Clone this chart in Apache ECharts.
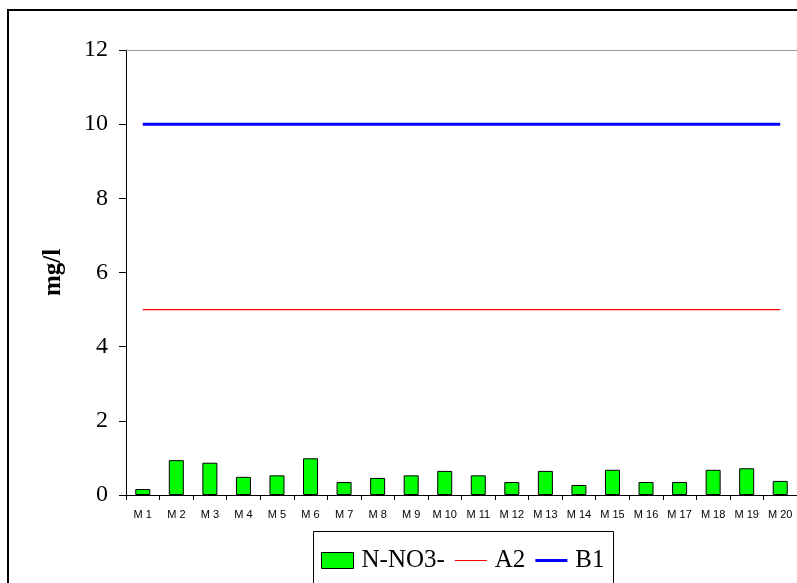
<!DOCTYPE html>
<html>
<head>
<meta charset="utf-8">
<script src="https://cdn.jsdelivr.net/npm/echarts@6/dist/echarts.min.js"></script>
<style>html,body{margin:0;padding:0;background:#fff;}#c{width:797px;height:583px;}</style>
</head>
<body>
<div id="c"></div>
<script>
var categories = ['M 1','M 2','M 3','M 4','M 5','M 6','M 7','M 8','M 9','M 10','M 11','M 12','M 13','M 14','M 15','M 16','M 17','M 18','M 19','M 20'];
var nno3 = [0.16,0.94,0.87,0.49,0.53,0.99,0.35,0.46,0.53,0.65,0.53,0.35,0.65,0.27,0.68,0.35,0.35,0.68,0.72,0.38];
var a2 = [5,5,5,5,5,5,5,5,5,5,5,5,5,5,5,5,5,5,5,5];
var b1 = [10,10,10,10,10,10,10,10,10,10,10,10,10,10,10,10,10,10,10,10];
var yTicks = [0,2,4,6,8,10,12];

var chart = echarts.init(document.getElementById('c'));
var serif = '"Liberation Serif", "Times New Roman", serif';
chart.setOption({
  animation: false,
  backgroundColor: '#fff',
  graphic: [
    {type:'rect', shape:{x:8,y:10,width:820,height:620}, style:{fill:'none',stroke:'#000',lineWidth:2}, z:-1},
    {type:'rect', shape:{x:313.5,y:531.5,width:300,height:80}, style:{fill:'#fff',stroke:'#000',lineWidth:1}, z:0}
  ],
  grid: {left:126, top:50, width:675, height:445},
  legend: {
    left: 321, top: 548, padding: 0, itemWidth: 32, itemHeight: 16, itemGap: 10,
    textStyle: {fontFamily: serif, fontSize: 25, color: '#000', padding:[0,0,0,3]},
    data: [
      {name:'N-NO3-', icon:'rect', itemStyle:{color:'#00ff00', borderColor:'#000', borderWidth:1}},
      {name:'A2', icon:'path://M0,0H32V1.2H0Z', itemStyle:{color:'#ff0000', borderWidth:0}},
      {name:'B1', icon:'path://M0,0H32V3H0Z', itemStyle:{color:'#0000ff', borderWidth:0}}
    ],
    z: 5
  },
  xAxis: [{
    type: 'category', data: categories, boundaryGap: true,
    axisLine: {lineStyle:{color:'#000', width:1}},
    axisTick: {show:true, length:5, lineStyle:{color:'#000'}},
    axisLabel: {fontFamily:'"Liberation Sans", Arial, sans-serif', fontSize:11, color:'#000', margin:14, interval:0}
  }, {
    type: 'category', data: categories, position: 'top',
    axisLine: {show:true, lineStyle:{color:'#999', width:1}},
    axisTick: {show:false}, axisLabel: {show:false}
  }],
  yAxis: {
    type: 'value', min: yTicks[0], max: yTicks[yTicks.length-1], interval: 2,
    name: 'mg/l', nameLocation: 'middle', nameRotate: 90, nameGap: 60,
    nameTextStyle: {fontFamily: serif, fontSize: 25, fontWeight: 'bold', color: '#000'},
    axisLine: {show:true, lineStyle:{color:'#000', width:1}},
    axisTick: {show:true, length:7, lineStyle:{color:'#000'}},
    splitLine: {show:false},
    axisLabel: {fontFamily: serif, fontSize: 24, color:'#000', margin: 18}
  },
  series: [
    {name:'N-NO3-', type:'bar', data:nno3, barWidth:15,
     itemStyle:{color:'#00ff00', borderColor:'#000', borderWidth:1}},
    {name:'A2', type:'line', data:a2, symbol:'none', lineStyle:{color:'#ff0000', width:1.4}, itemStyle:{color:'#ff0000'}},
    {name:'B1', type:'line', data:b1, symbol:'none', lineStyle:{color:'#0000ff', width:3}, itemStyle:{color:'#0000ff'}}
  ]
});
</script>
</body>
</html>
